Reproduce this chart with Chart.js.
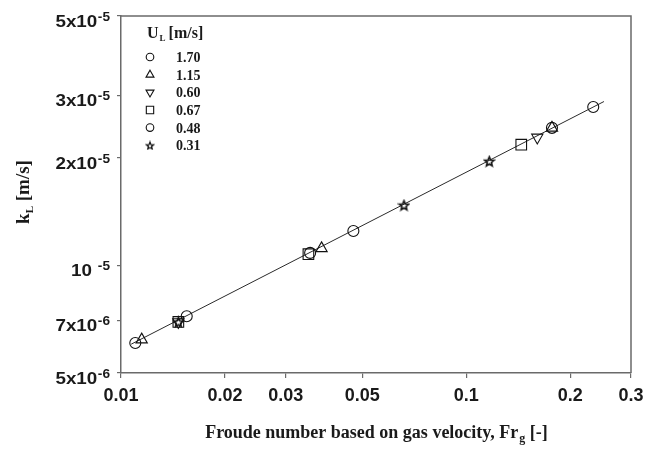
<!DOCTYPE html>
<html>
<head>
<meta charset="utf-8">
<script src="https://cdn.jsdelivr.net/npm/chart.js@4/dist/chart.umd.min.js"></script>
<style>
  html, body { margin: 0; padding: 0; background: #fff; }
  #wrap { width: 656px; height: 456px; position: relative; }
</style>
</head>
<body>
<div id="wrap"><canvas id="c" width="656" height="456"></canvas></div>
<script>
// ---- data ----
const legendLabels = ["1.70", "1.15", "0.60", "0.67", "0.48", "0.31"];

const fr170 = [0.0110, 0.0353, 0.2332];
const kl170 = [6.07e-6, 1.085e-5, 2.78e-5];

const fr115 = [0.01148, 0.0381, 0.1771];
const kl115 = [6.20e-6, 1.117e-5, 2.43e-5];

const fr060 = [0.01466, 0.1606];
const kl060 = [6.95e-6, 2.285e-5];

const fr067 = [0.01466, 0.0349, 0.1443];
const kl067 = [6.95e-6, 1.076e-5, 2.18e-5];

const fr048 = [0.0155, 0.0471, 0.1771];
const kl048 = [7.21e-6, 1.25e-5, 2.43e-5];

const fr031 = [0.01466, 0.0660, 0.1166];
const kl031 = [6.95e-6, 1.476e-5, 1.96e-5];

// fitted line end points
const fitFr = [0.0107, 0.2505];
const fitKl = [6.02e-6, 2.88e-5];

const xTickValues = [0.01, 0.02, 0.03, 0.05, 0.1, 0.2, 0.3];
const xTickLabels = ["0.01", "0.02", "0.03", "0.05", "0.1", "0.2", "0.3"];
const yTickValues = [5e-6, 7e-6, 1e-5, 2e-5, 3e-5, 5e-5];
const yTickMain = ["5x10", "7x10", "10 ", "2x10", "3x10", "5x10"];
const yTickSup = ["-6", "-6", "-5", "-5", "-5", "-5"];

// ---- helpers ----
function pts(xs, ys) { return xs.map((x, i) => ({ x: x, y: ys[i] })); }

function makeStar(size, lw) {
  const cv = document.createElement('canvas');
  cv.width = size; cv.height = size;
  const g = cv.getContext('2d');
  const cx = size / 2, cy = size / 2 + 0.5;
  const R = size / 2 - lw, r = R * 0.45;
  g.beginPath();
  for (let i = 0; i < 10; i++) {
    const a = -Math.PI / 2 + i * Math.PI / 5;
    const rr = (i % 2 === 0) ? R : r;
    const px = cx + rr * Math.cos(a), py = cy + rr * Math.sin(a);
    if (i === 0) g.moveTo(px, py); else g.lineTo(px, py);
  }
  g.closePath();
  g.lineWidth = lw;
  g.strokeStyle = '#111';
  g.lineJoin = 'miter';
  g.stroke();
  return cv;
}
const starBig = makeStar(13, 1.6);
const starSmall = makeStar(10, 1.3);

const markerStyles = [
  { pointStyle: 'circle', radius: 5.5, rotation: 0 },
  { pointStyle: 'triangle', radius: 6.5, rotation: 0 },
  { pointStyle: 'triangle', radius: 6.5, rotation: 180 },
  { pointStyle: 'rect', radius: 7.5, rotation: 0 },
  { pointStyle: 'circle', radius: 5.5, rotation: 0 },
  { pointStyle: starBig, radius: 6, rotation: 0 }
];
const legendStyles = [
  { pointStyle: 'circle', radius: 3.8, rotation: 0 },
  { pointStyle: 'triangle', radius: 4.6, rotation: 0 },
  { pointStyle: 'triangle', radius: 4.6, rotation: 180 },
  { pointStyle: 'rect', radius: 5.2, rotation: 0 },
  { pointStyle: 'circle', radius: 3.8, rotation: 0 },
  { pointStyle: starSmall, radius: 4, rotation: 0 }
];

const seriesData = [
  pts(fr170, kl170), pts(fr115, kl115), pts(fr060, kl060),
  pts(fr067, kl067), pts(fr048, kl048), pts(fr031, kl031)
];

const datasets = seriesData.map((d, i) => ({
  type: 'scatter',
  label: legendLabels[i],
  data: d,
  showLine: false,
  pointStyle: markerStyles[i].pointStyle,
  pointRadius: markerStyles[i].radius,
  pointRotation: markerStyles[i].rotation,
  pointBorderColor: '#111',
  pointBackgroundColor: 'rgba(255,255,255,0)',
  pointBorderWidth: 1.1,
  order: 1
}));
datasets.unshift({
  type: 'line',
  label: 'fit',
  data: pts(fitFr, fitKl),
  borderColor: '#2a2a2a',
  borderWidth: 1,
  pointRadius: 0,
  fill: false,
  order: 2
});

const TEXT = '#1a1a1a';
const SERIF = '"Liberation Serif", "Times New Roman", serif';
const SANS = '"Liberation Sans", Arial, sans-serif';

const decor = {
  id: 'decor',
  afterDraw(chart) {
    const ctx = chart.ctx;
    const a = chart.chartArea;
    const ys = chart.scales.y;
    ctx.save();
    // frame top & right
    ctx.strokeStyle = '#6a6a6a';
    ctx.lineWidth = 1.5;
    ctx.beginPath();
    ctx.moveTo(a.left, a.top);
    ctx.lineTo(a.right, a.top);
    ctx.lineTo(a.right, a.bottom);
    ctx.stroke();

    // y tick labels with superscripts (slightly wide lettering as in reference)
    ctx.fillStyle = TEXT;
    ctx.textBaseline = 'alphabetic';
    const rightX = 110;
    const sxScale = 1.14;
    yTickValues.forEach((v, i) => {
      const py = ys.getPixelForValue(v);
      ctx.save();
      ctx.translate(rightX, py);
      ctx.scale(sxScale, 1);
      ctx.font = 'bold 12px ' + SANS;
      const sw = ctx.measureText(yTickSup[i]).width;
      ctx.textAlign = 'left';
      ctx.fillText(yTickSup[i], -sw, 4.5);
      ctx.font = 'bold 16.5px ' + SANS;
      ctx.textAlign = 'right';
      ctx.fillText(yTickMain[i], -sw - 0.5, 10.5);
      ctx.restore();
    });

    // y axis title: k_L [m/s]
    ctx.save();
    ctx.translate(29, 192);
    ctx.rotate(-Math.PI / 2);
    ctx.font = 'bold 19px ' + SERIF;
    const w1 = ctx.measureText('k').width;
    const w3 = ctx.measureText(' [m/s]').width;
    ctx.font = 'bold 11px ' + SERIF;
    const w2 = ctx.measureText('L').width;
    let sx = -(w1 + w2 + w3) / 2;
    ctx.textAlign = 'left';
    ctx.font = 'bold 19px ' + SERIF;
    ctx.fillText('k', sx, 0);
    ctx.font = 'bold 11px ' + SERIF;
    ctx.fillText('L', sx + w1, 4);
    ctx.font = 'bold 19px ' + SERIF;
    ctx.fillText(' [m/s]', sx + w1 + w2, 0);
    ctx.restore();

    // x axis title
    {
      const t1 = 'Froude number based on gas velocity, Fr';
      const t2 = 'g';
      const t3 = ' [-]';
      ctx.font = 'bold 18px ' + SERIF;
      const a1 = ctx.measureText(t1).width;
      const a3 = ctx.measureText(t3).width;
      ctx.font = 'bold 12px ' + SERIF;
      const a2 = ctx.measureText(t2).width;
      const cx = 376, by = 438;
      let x0 = cx - (a1 + a2 + a3) / 2;
      ctx.textAlign = 'left';
      ctx.font = 'bold 18px ' + SERIF;
      ctx.fillText(t1, x0, by);
      ctx.font = 'bold 12px ' + SERIF;
      ctx.fillText(t2, x0 + a1 + 1, by + 4);
      ctx.font = 'bold 18px ' + SERIF;
      ctx.fillText(t3, x0 + a1 + a2 + 1, by);
    }

    // legend
    {
      ctx.textAlign = 'left';
      ctx.font = 'bold 16px ' + SERIF;
      ctx.fillText('U', 147, 38);
      const uw = ctx.measureText('U').width;
      ctx.font = 'bold 9px ' + SERIF;
      ctx.fillText('L', 147 + uw + 1, 41);
      ctx.font = 'bold 16px ' + SERIF;
      ctx.fillText('[m/s]', 147 + uw + 10, 38);
      const rowY = [57, 74.8, 92.4, 110, 127.6, 145.4];
      legendLabels.forEach((lab, i) => {
        const st = legendStyles[i];
        ctx.strokeStyle = '#111';
        ctx.fillStyle = 'rgba(255,255,255,0)';
        ctx.lineWidth = 1.1;
        Chart.helpers.drawPoint(ctx, {
          pointStyle: st.pointStyle, radius: st.radius, rotation: st.rotation, borderWidth: 1.1
        }, 150, rowY[i]);
        ctx.fillStyle = TEXT;
        ctx.font = 'bold 14px ' + SERIF;
        ctx.fillText(lab, 176, rowY[i] + 5);
      });
    }
    ctx.restore();
  }
};

new Chart(document.getElementById('c'), {
  data: { datasets: datasets },
  options: {
    responsive: false,
    animation: false,
    devicePixelRatio: 1,
    layout: { padding: { left: 0, top: 16, right: 25, bottom: 0 } },
    plugins: { legend: { display: false }, tooltip: { enabled: false } },
    scales: {
      x: {
        type: 'logarithmic',
        position: 'bottom',
        min: 0.01, max: 0.3,
        afterBuildTicks: (s) => { s.ticks = xTickValues.map(v => ({ value: v })); },
        afterFit: (s) => { s.height = 83; },
        ticks: {
          autoSkip: false,
          maxRotation: 0,
          padding: 7,
          color: TEXT,
          font: { family: SANS, size: 18, weight: 'bold' },
          callback: (v, i) => xTickLabels[xTickValues.indexOf(v)] ?? ''
        },
        grid: { drawOnChartArea: false, drawTicks: true, tickLength: 5, color: '#6a6a6a', lineWidth: 1.2 },
        border: { display: true, color: '#6a6a6a', width: 1.5 }
      },
      y: {
        type: 'logarithmic',
        position: 'left',
        min: 5e-6, max: 5e-5,
        afterBuildTicks: (s) => { s.ticks = yTickValues.map(v => ({ value: v })); },
        afterFit: (s) => { s.width = 121; },
        ticks: { display: false },
        grid: { drawOnChartArea: false, drawTicks: true, tickLength: 4, color: '#6a6a6a', lineWidth: 1.2 },
        border: { display: true, color: '#6a6a6a', width: 1.5 }
      }
    }
  },
  plugins: [decor]
});
</script>
</body>
</html>
